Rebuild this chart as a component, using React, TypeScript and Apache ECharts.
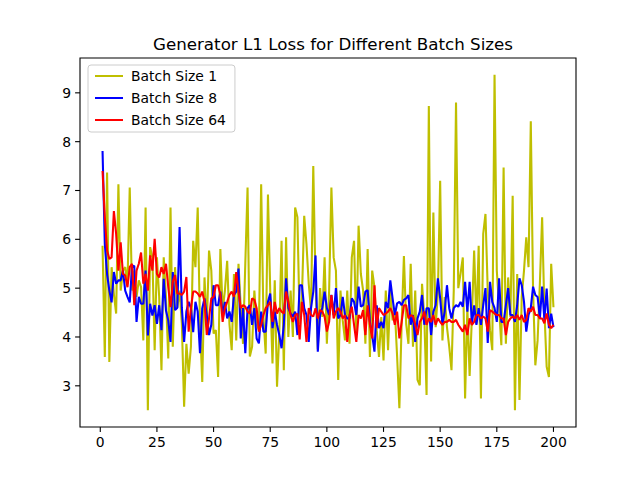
import React, { useEffect, useRef } from "react";
import * as echarts from "echarts";

const titleText = "Generator L1 Loss for Different Batch Sizes";
const seriesNames = ["Batch Size 1", "Batch Size 8", "Batch Size 64"];
const seriesColors = ["#bfbf00", "#0000ff", "#ff0000"];
const xTicks = [0, 25, 50, 75, 100, 125, 150, 175, 200];
const yTicks = [3, 4, 5, 6, 7, 8, 9];

const batch1 = [
  5.87, 3.59, 7.37, 3.49, 5.43, 4.88, 4.48, 7.13, 4.95, 5.36,
  5.43, 5.09, 7.06, 4.95, 5.36, 4.82, 5.16, 5.02, 3.93, 6.65,
  2.5, 5.84, 5.63, 3.73, 5.63, 4.82, 3.32, 5.63, 4.82, 3.56,
  6.65, 3.8, 5.43, 4.6, 4.95, 4.27, 2.57, 3.86, 3.25, 3.8,
  5.97, 5.43, 6.65, 4.27, 3.08, 5.22, 4.2, 5.77, 5.36, 4.07,
  4.14, 3.18, 5.8, 4.54, 4.95, 5.56, 4.27, 3.73, 5.29, 3.93,
  5.5, 4.61, 3.86, 5.5, 7.06, 3.6, 3.8, 4.95, 4.27, 4.14,
  7.13, 4.41, 3.66, 6.92, 4.95, 3.46, 5.16, 2.98, 4.07, 5.97,
  3.32, 6.04, 4.0, 4.95, 4.0, 6.65, 6.45, 4.27, 4.82, 6.48,
  5.9, 5.09, 4.54, 7.5, 5.09, 3.75, 5.0, 4.41, 5.63, 3.86,
  4.95, 7.06, 5.63, 5.36, 3.12, 4.95, 4.34, 3.93, 4.95, 3.86,
  5.63, 5.97, 4.07, 6.28, 5.29, 4.95, 3.86, 5.8, 3.59, 5.36,
  5.02, 4.14, 3.59, 4.41, 3.52, 4.95, 3.73, 4.95, 4.34, 4.55,
  3.6, 2.54, 4.27, 5.66, 4.27, 3.86, 5.5, 3.8, 4.95, 3.12,
  3.01, 5.09, 4.41, 2.81, 8.73, 3.5, 6.55, 4.2, 4.9, 7.2,
  3.93, 4.82, 4.2, 3.8, 3.32, 4.95, 8.8, 5.0, 5.3, 5.63,
  2.74, 4.6, 3.2, 4.4, 5.77, 4.27, 5.87, 2.74, 6.11, 6.52,
  4.95, 4.14, 3.73, 9.37, 5.36, 4.61, 3.83, 7.47, 3.86, 5.22,
  4.41, 6.89, 2.5, 5.29, 2.71, 4.82, 5.36, 6.04, 5.43, 8.42,
  4.95, 3.42, 3.93, 5.09, 6.45, 4.54, 3.39, 3.18, 5.5, 4.61,
];

const batch8 = [
  7.81, 5.9, 5.29, 4.95, 4.71, 5.33, 5.09, 5.16, 5.16, 5.36,
  4.95, 4.82, 4.71, 5.43, 5.46, 4.31, 4.82, 4.68, 4.68, 5.36,
  4.03, 4.68, 4.44, 4.65, 4.27, 4.65, 4.14, 5.19, 4.54, 4.34,
  3.9, 5.33, 4.55, 4.6, 6.25, 4.6, 3.9, 4.52, 4.72, 4.59,
  4.1, 4.72, 4.52, 3.67, 4.59, 4.79, 4.45, 4.04, 4.25, 5.06,
  4.65, 4.65, 4.93, 4.45, 4.72, 4.38, 4.52, 4.31, 4.86, 4.93,
  5.4, 3.97, 4.59, 3.67, 4.59, 4.65, 4.25, 4.59, 3.97, 3.87,
  4.52, 4.11, 4.11, 4.72, 4.89, 4.18, 4.52, 4.25, 4.04, 3.77,
  4.25, 5.2, 4.59, 4.48, 4.42, 4.52, 4.04, 5.06, 5.06, 4.59,
  4.45, 3.9, 4.59, 4.93, 5.67, 3.7, 4.45, 4.6, 4.93, 4.59,
  4.45, 4.86, 4.45, 5.0, 4.38, 4.45, 4.82, 4.45, 4.38, 4.38,
  4.79, 4.72, 4.45, 5.03, 4.62, 4.65, 4.93, 4.96, 4.31, 4.04,
  3.7, 4.65, 4.18, 4.31, 4.18, 4.72, 4.59, 5.16, 4.79, 4.45,
  4.69, 4.72, 4.65, 4.76, 4.79, 4.86, 4.25, 4.45, 3.9, 4.38,
  4.52, 4.86, 4.25, 4.59, 4.59, 4.04, 4.52, 4.65, 5.2, 4.79,
  4.25, 4.52, 5.06, 4.59, 4.38, 4.59, 4.65, 4.62, 4.72, 4.62,
  5.13, 4.52, 5.13, 4.25, 4.65, 4.25, 4.59, 4.25, 4.65, 5.0,
  3.88, 5.13, 4.72, 4.59, 4.31, 5.2, 4.31, 4.31, 4.65, 5.0,
  4.45, 4.45, 4.31, 4.65, 5.2, 5.06, 4.72, 4.11, 4.45, 4.59,
  5.03, 4.86, 4.82, 4.38, 5.03, 4.35, 4.99, 4.18, 4.48, 4.2,
];

const batch64 = [
  7.4, 6.45, 5.77, 5.6, 5.63, 6.58, 6.11, 5.36, 5.94, 5.29,
  5.26, 5.02, 5.43, 5.5, 4.65, 5.36, 5.5, 5.73, 5.09, 5.29,
  4.95, 5.67, 5.36, 6.01, 5.29, 5.22, 5.43, 5.29, 5.5, 5.02,
  4.61, 5.13, 5.27, 4.89, 4.89, 4.86, 4.93, 5.23, 4.11, 4.59,
  4.93, 4.93, 4.89, 4.82, 4.93, 4.72, 4.04, 4.38, 4.79, 4.82,
  5.06, 5.06, 4.86, 4.31, 4.59, 4.72, 4.86, 4.93, 4.82, 5.33,
  4.93, 4.59, 4.65, 4.62, 4.52, 4.48, 4.79, 4.76, 4.59, 4.11,
  4.25, 4.45, 4.59, 4.65, 4.72, 4.31, 4.72, 4.48, 4.59, 4.52,
  4.48, 4.93, 4.72, 4.45, 4.31, 4.45, 4.48, 3.95, 4.72, 4.45,
  3.9, 4.59, 4.45, 4.42, 4.59, 4.38, 4.55, 4.52, 4.42, 4.11,
  4.31, 4.86, 4.38, 4.52, 4.59, 4.52, 4.38, 4.45, 3.9, 4.45,
  4.62, 4.25, 3.9, 4.45, 4.38, 4.55, 4.04, 4.65, 4.25, 3.97,
  5.06, 4.18, 4.59, 4.52, 4.45, 4.48, 4.52, 4.59, 4.48, 4.25,
  4.52, 3.97, 4.31, 4.65, 4.65, 4.38, 4.45, 4.42, 4.25, 4.04,
  4.31, 4.38, 4.52, 4.25, 4.38, 4.31, 4.45, 4.25, 4.38, 4.31,
  4.25, 4.31, 4.31, 4.35, 4.31, 4.31, 4.35, 4.25, 4.18, 4.11,
  4.25, 4.04, 4.38, 4.25, 4.31, 4.45, 4.45, 4.38, 4.42, 4.38,
  4.11, 4.55, 4.52, 4.48, 4.45, 4.45, 4.38, 4.38, 4.04, 4.31,
  4.38, 4.42, 4.38, 4.45, 4.35, 4.45, 4.31, 4.35, 4.59, 4.52,
  4.62, 4.45, 4.45, 4.38, 4.38, 4.28, 4.48, 4.25, 4.18, 4.25,
];

const allSeries = [batch1, batch8, batch64];

export default function App() {
  const ref = useRef<HTMLDivElement>(null);
  useEffect(() => {
    document.body.style.margin = "0";
    if (!ref.current) return;
    const chart = echarts.init(ref.current, null, { renderer: "svg" });
    const font = "DejaVu Sans";
    const allVals = allSeries.flat();
    const yMinD = Math.min(...allVals);
    const yMaxD = Math.max(...allVals);
    const yPad = (yMaxD - yMinD) * 0.05;
    const n = batch1.length;
    const xPad = (n - 1) * 0.05;
    const xMin = 1 - xPad;
    const xMax = n + xPad;
    const yMin = yMinD - yPad;
    const yMax = yMaxD + yPad;
    chart.setOption({
      animation: false,
      backgroundColor: "#ffffff",
      title: {
        text: titleText,
        left: 328,
        textAlign: "center",
        top: 30,
        textStyle: { fontFamily: font, fontSize: 16.7, fontWeight: "normal", color: "#000" },
      },
      legend: {
        orient: "vertical",
        left: 88,
        top: 65,
        padding: [4, 9, 5, 7],
        itemGap: 8,
        itemWidth: 28,
        itemHeight: 2,
        icon: "rect",
        backgroundColor: "rgba(255,255,255,0.8)",
        borderColor: "#cccccc",
        borderWidth: 1,
        borderRadius: 3,
        textStyle: { fontFamily: font, fontSize: 13.9, color: "#000", lineHeight: 14, padding: [0, 0, 0, 3] },
        data: seriesNames,
      },
      grid: {
        left: 80,
        right: 64,
        top: 58,
        bottom: 53,
        show: true,
        borderColor: "#000",
        borderWidth: 1.1,
        backgroundColor: "transparent",
      },
      xAxis: {
        type: "value",
        min: xMin,
        max: xMax,
        axisLine: { show: false, onZero: false },
        splitLine: { show: false },
        axisTick: { show: false },
        axisLabel: { customValues: xTicks, margin: 8, color: "#000", fontFamily: font, fontSize: 13.9 },
      },
      yAxis: {
        type: "value",
        min: yMin,
        max: yMax,
        axisLine: { show: false, onZero: false },
        splitLine: { show: false },
        axisTick: { show: false },
        axisLabel: { customValues: yTicks, margin: 9, color: "#000", fontFamily: font, fontSize: 13.9 },
      },
      series: allSeries.map((vals, k) => ({
        name: seriesNames[k],
        type: "line",
        showSymbol: false,
        symbol: "none",
        color: seriesColors[k],
        lineStyle: { width: 2.08, color: seriesColors[k] },
        data: vals.map((v, i) => [i + 1, v]),
        z: 2 + k,
      })),
    });
    // tick marks placed through the chart's own scales
    const tickLen = 4.9;
    const tickStyle = { stroke: "#000", lineWidth: 1.1 };
    const tickEls: any[] = [];
    xTicks.forEach((t) => {
      const p = chart.convertToPixel({ gridIndex: 0 }, [t, yMin]) as number[];
      tickEls.push({ type: "line", silent: true, shape: { x1: p[0], y1: p[1], x2: p[0], y2: p[1] + tickLen }, style: tickStyle });
    });
    yTicks.forEach((t) => {
      const p = chart.convertToPixel({ gridIndex: 0 }, [xMin, t]) as number[];
      tickEls.push({ type: "line", silent: true, shape: { x1: p[0] - tickLen, y1: p[1], x2: p[0], y2: p[1] }, style: tickStyle });
    });
    chart.setOption({ graphic: tickEls });
    return () => chart.dispose();
  }, []);
  return <div ref={ref} style={{ width: 640, height: 480 }} />;
}
